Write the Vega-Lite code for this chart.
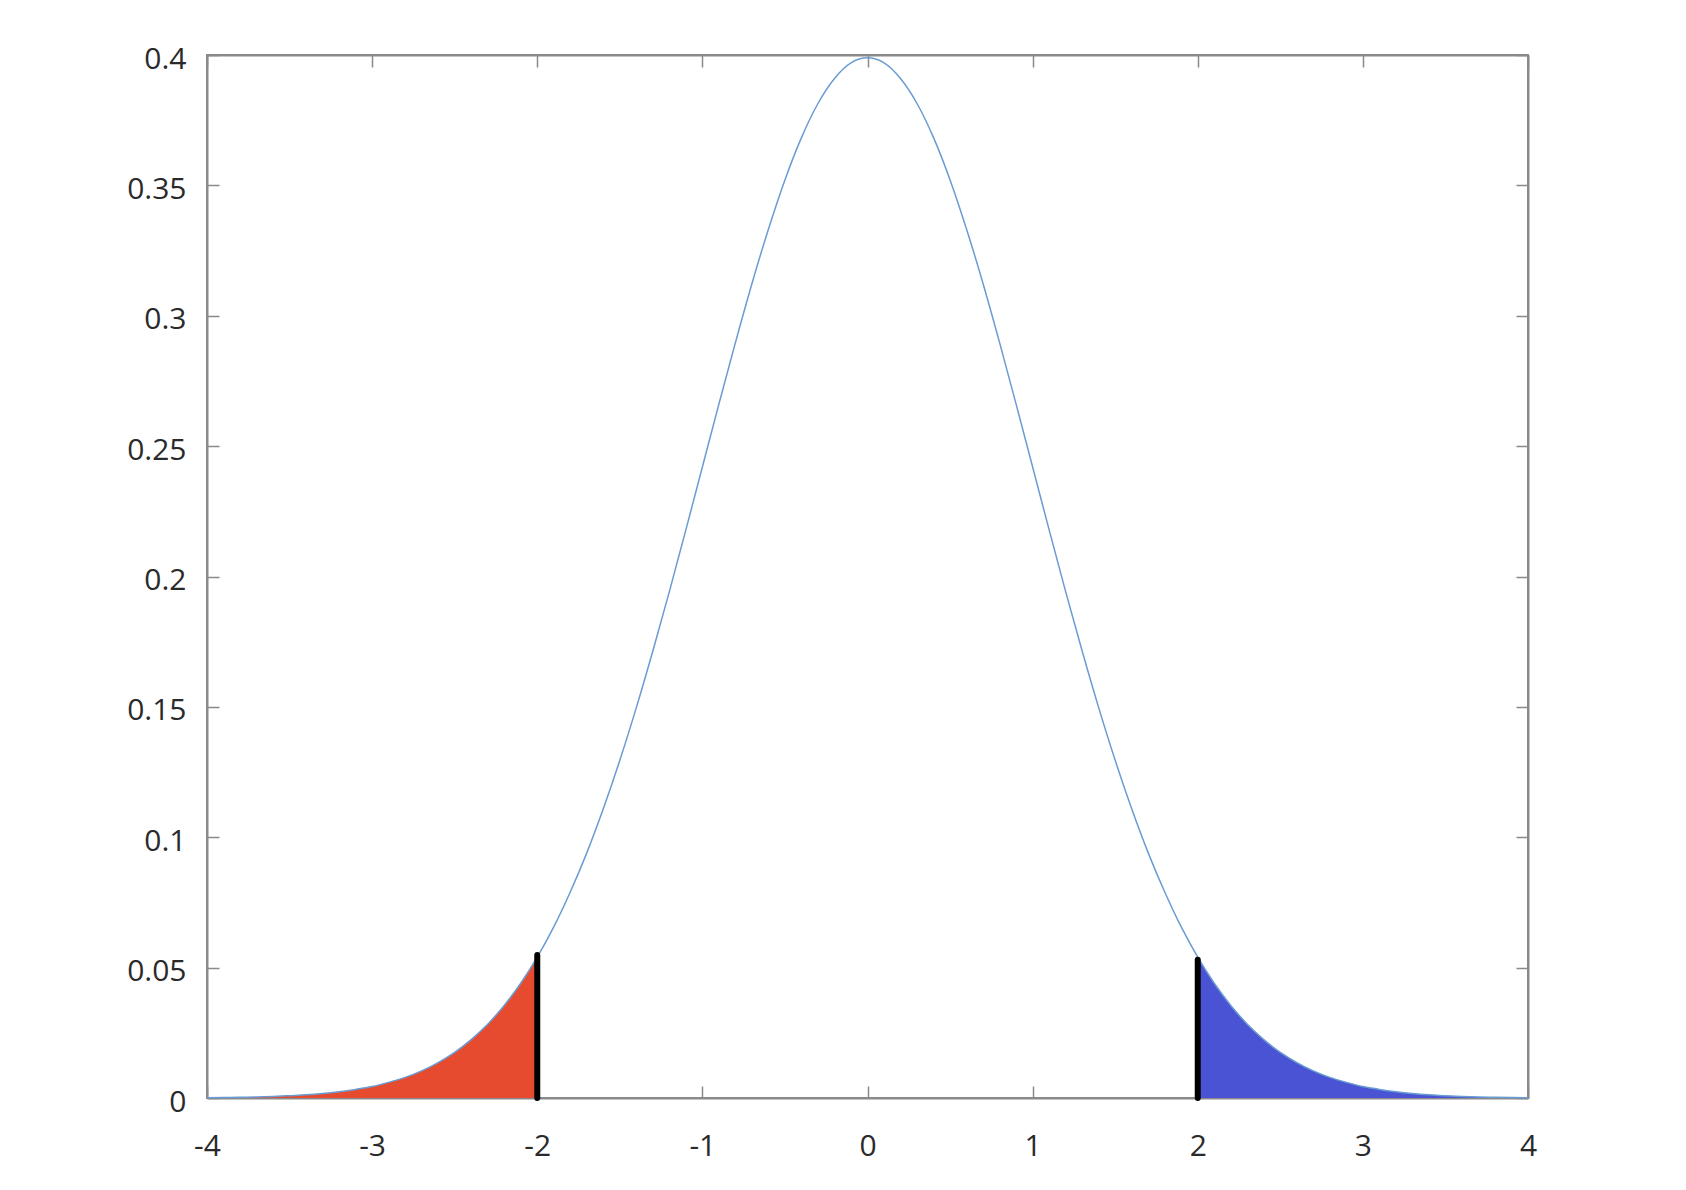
{
  "$schema": "https://vega.github.io/schema/vega-lite/v6.json",
  "width": 1321,
  "height": 1043,
  "autosize": {"type": "none"},
  "padding": {"left": 207, "top": 55, "right": 158, "bottom": 92},
  "background": "white",
  "config": {
    "view": {"stroke": "#8a8a8a", "strokeWidth": 2},
    "axis": {
      "grid": false,
      "domainColor": "#8a8a8a",
      "domainWidth": 2,
      "tickColor": "#8a8a8a",
      "tickWidth": 1.5,
      "labelFont": "Open Sans",
      "labelFontSize": 30,
      "labelColor": "#2a2a2a",
      "labelFlush": false,
      "title": null,
      "labelExpr": "toString(datum.value)"
    }
  },
  "datasets": {
    "curve": [
      {"x": -4.0, "y": 0.0001}, {"x": -3.9, "y": 0.0002}, {"x": -3.8, "y": 0.0003}, {"x": -3.7, "y": 0.0004},
      {"x": -3.6, "y": 0.0006}, {"x": -3.5, "y": 0.0009}, {"x": -3.4, "y": 0.0012}, {"x": -3.3, "y": 0.0017},
      {"x": -3.2, "y": 0.0024}, {"x": -3.1, "y": 0.0033}, {"x": -3.0, "y": 0.0044}, {"x": -2.9, "y": 0.0060},
      {"x": -2.8, "y": 0.0079}, {"x": -2.7, "y": 0.0104}, {"x": -2.6, "y": 0.0136}, {"x": -2.5, "y": 0.0175},
      {"x": -2.4, "y": 0.0224}, {"x": -2.3, "y": 0.0283}, {"x": -2.2, "y": 0.0355}, {"x": -2.1, "y": 0.0440},
      {"x": -2.0, "y": 0.0540}, {"x": -1.9, "y": 0.0656}, {"x": -1.8, "y": 0.0790}, {"x": -1.7, "y": 0.0940},
      {"x": -1.6, "y": 0.1109}, {"x": -1.5, "y": 0.1295}, {"x": -1.4, "y": 0.1497}, {"x": -1.3, "y": 0.1714},
      {"x": -1.2, "y": 0.1942}, {"x": -1.1, "y": 0.2179}, {"x": -1.0, "y": 0.2420}, {"x": -0.9, "y": 0.2661},
      {"x": -0.8, "y": 0.2897}, {"x": -0.7, "y": 0.3123}, {"x": -0.6, "y": 0.3332}, {"x": -0.5, "y": 0.3521},
      {"x": -0.4, "y": 0.3683}, {"x": -0.3, "y": 0.3814}, {"x": -0.2, "y": 0.3910}, {"x": -0.1, "y": 0.3970},
      {"x": 0.0, "y": 0.3989},
      {"x": 0.1, "y": 0.3970}, {"x": 0.2, "y": 0.3910}, {"x": 0.3, "y": 0.3814}, {"x": 0.4, "y": 0.3683},
      {"x": 0.5, "y": 0.3521}, {"x": 0.6, "y": 0.3332}, {"x": 0.7, "y": 0.3123}, {"x": 0.8, "y": 0.2897},
      {"x": 0.9, "y": 0.2661}, {"x": 1.0, "y": 0.2420}, {"x": 1.1, "y": 0.2179}, {"x": 1.2, "y": 0.1942},
      {"x": 1.3, "y": 0.1714}, {"x": 1.4, "y": 0.1497}, {"x": 1.5, "y": 0.1295}, {"x": 1.6, "y": 0.1109},
      {"x": 1.7, "y": 0.0940}, {"x": 1.8, "y": 0.0790}, {"x": 1.9, "y": 0.0656}, {"x": 2.0, "y": 0.0540},
      {"x": 2.1, "y": 0.0440}, {"x": 2.2, "y": 0.0355}, {"x": 2.3, "y": 0.0283}, {"x": 2.4, "y": 0.0224},
      {"x": 2.5, "y": 0.0175}, {"x": 2.6, "y": 0.0136}, {"x": 2.7, "y": 0.0104}, {"x": 2.8, "y": 0.0079},
      {"x": 2.9, "y": 0.0060}, {"x": 3.0, "y": 0.0044}, {"x": 3.1, "y": 0.0033}, {"x": 3.2, "y": 0.0024},
      {"x": 3.3, "y": 0.0017}, {"x": 3.4, "y": 0.0012}, {"x": 3.5, "y": 0.0009}, {"x": 3.6, "y": 0.0006},
      {"x": 3.7, "y": 0.0004}, {"x": 3.8, "y": 0.0003}, {"x": 3.9, "y": 0.0002}, {"x": 4.0, "y": 0.0001}
    ],
    "bars": [
      {"x": -2.0, "y": 0, "y2": 0.0548},
      {"x": 2.0, "y": 0, "y2": 0.0530}
    ]
  },
  "resolve": {"axis": {"x": "independent", "y": "independent"}},
  "layer": [
    {
      "data": {"name": "curve"},
      "transform": [{"filter": "datum.x <= -2"}],
      "mark": {"type": "area", "color": "#E64B2F", "opacity": 1},
      "encoding": {
        "x": {"field": "x", "type": "quantitative", "scale": {"domain": [-4, 4], "nice": false},
          "axis": {"orient": "bottom", "values": [-4, -3, -2, -1, 0, 1, 2, 3, 4], "tickSize": -12, "labelPadding": 45}},
        "y": {"field": "y", "type": "quantitative", "scale": {"domain": [0, 0.4], "nice": false, "zero": true},
          "axis": {"orient": "left", "values": [0, 0.05, 0.1, 0.15, 0.2, 0.25, 0.3, 0.35, 0.4], "tickSize": -12, "labelPadding": 33, "labelOffset": 4}}
      }
    },
    {
      "data": {"name": "curve"},
      "transform": [{"filter": "datum.x >= 2"}],
      "mark": {"type": "area", "color": "#4A53D3", "opacity": 1},
      "encoding": {
        "x": {"field": "x", "type": "quantitative",
          "axis": {"orient": "top", "values": [-4, -3, -2, -1, 0, 1, 2, 3, 4], "tickSize": -12, "labels": false}},
        "y": {"field": "y", "type": "quantitative",
          "axis": {"orient": "right", "values": [0, 0.05, 0.1, 0.15, 0.2, 0.25, 0.3, 0.35, 0.4], "tickSize": -12, "labels": false}}
      }
    },
    {
      "data": {"name": "curve"},
      "mark": {"type": "line", "color": "#6A9BD3", "strokeWidth": 1.5, "interpolate": "monotone"},
      "encoding": {
        "x": {"field": "x", "type": "quantitative", "axis": null},
        "y": {"field": "y", "type": "quantitative", "axis": null}
      }
    },
    {
      "data": {"name": "bars"},
      "mark": {"type": "rule", "color": "black", "strokeWidth": 6, "strokeCap": "round"},
      "encoding": {
        "x": {"field": "x", "type": "quantitative", "axis": null},
        "y": {"field": "y", "type": "quantitative", "axis": null},
        "y2": {"field": "y2"}
      }
    }
  ]
}
